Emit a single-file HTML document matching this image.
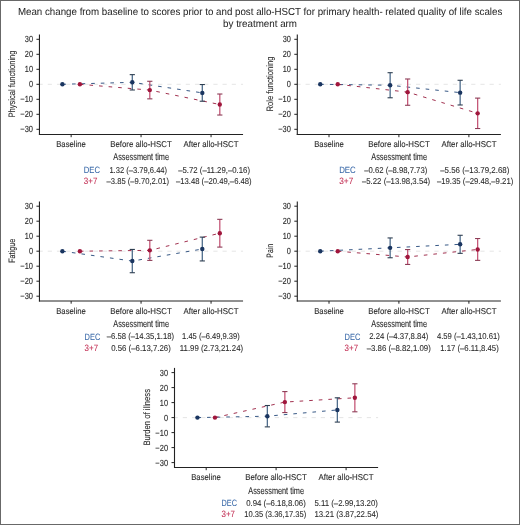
<!DOCTYPE html>
<html><head><meta charset="utf-8"><style>
html,body{margin:0;padding:0;background:#fff;}
body{width:520px;height:525px;overflow:hidden;}
.fr{position:absolute;left:0;top:0;width:518px;height:523px;border:1px solid #686868;}
svg{position:absolute;left:0;top:0;will-change:transform;font-family:"Liberation Sans", sans-serif;text-rendering:geometricPrecision;}
</style></head><body>
<div class="fr"></div>
<svg width="520" height="525" viewBox="0 0 520 525">
<line x1="38.55" y1="84.30" x2="243.05" y2="84.30" stroke="#e2e2e2" stroke-width="0.9" stroke-dasharray="4.2 5"/>
<path d="M62.40,84.30 L132.30,82.32 L202.30,92.88" fill="none" stroke="#2c4f7e" stroke-width="0.95" stroke-dasharray="3.6 6"/>
<path d="M79.90,84.30 L149.80,90.08 L219.80,104.52" fill="none" stroke="#9c2646" stroke-width="0.95" stroke-dasharray="3.6 6"/>
<line x1="132.30" y1="74.64" x2="132.30" y2="89.98" stroke="#4f6d8c" stroke-width="1.3"/>
<line x1="129.70" y1="74.64" x2="134.90" y2="74.64" stroke="#2e3e50" stroke-width="1.1"/>
<line x1="129.70" y1="89.98" x2="134.90" y2="89.98" stroke="#2e3e50" stroke-width="1.1"/>
<line x1="202.30" y1="84.54" x2="202.30" y2="101.23" stroke="#4f6d8c" stroke-width="1.3"/>
<line x1="199.70" y1="84.54" x2="204.90" y2="84.54" stroke="#2e3e50" stroke-width="1.1"/>
<line x1="199.70" y1="101.23" x2="204.90" y2="101.23" stroke="#2e3e50" stroke-width="1.1"/>
<line x1="149.80" y1="81.28" x2="149.80" y2="98.85" stroke="#c55878" stroke-width="1.3"/>
<line x1="147.20" y1="81.28" x2="152.40" y2="81.28" stroke="#8c3c56" stroke-width="1.1"/>
<line x1="147.20" y1="98.85" x2="152.40" y2="98.85" stroke="#8c3c56" stroke-width="1.1"/>
<line x1="219.80" y1="94.02" x2="219.80" y2="115.03" stroke="#c55878" stroke-width="1.3"/>
<line x1="217.20" y1="94.02" x2="222.40" y2="94.02" stroke="#8c3c56" stroke-width="1.1"/>
<line x1="217.20" y1="115.03" x2="222.40" y2="115.03" stroke="#8c3c56" stroke-width="1.1"/>
<circle cx="62.40" cy="84.30" r="2.2" fill="#1a3560"/>
<circle cx="132.30" cy="82.32" r="2.2" fill="#1a3560"/>
<circle cx="202.30" cy="92.88" r="2.2" fill="#1a3560"/>
<circle cx="79.90" cy="84.30" r="2.2" fill="#a0163c"/>
<circle cx="149.80" cy="90.08" r="2.2" fill="#a0163c"/>
<circle cx="219.80" cy="104.52" r="2.2" fill="#a0163c"/>
<line x1="39.45" y1="34.60" x2="39.45" y2="135.00" stroke="#222" stroke-width="1.1"/>
<line x1="38.95" y1="134.50" x2="243.05" y2="134.50" stroke="#222" stroke-width="1.0"/>
<line x1="36.45" y1="129.30" x2="39.45" y2="129.30" stroke="#222" stroke-width="1"/>
<text x="20.30" y="132.40" font-size="8.9" fill="#2a2a2a" stroke="#2a2a2a" stroke-width="0.11" textLength="12.70" lengthAdjust="spacingAndGlyphs">−30</text>
<line x1="36.45" y1="114.30" x2="39.45" y2="114.30" stroke="#222" stroke-width="1"/>
<text x="20.30" y="117.40" font-size="8.9" fill="#2a2a2a" stroke="#2a2a2a" stroke-width="0.11" textLength="12.70" lengthAdjust="spacingAndGlyphs">−20</text>
<line x1="36.45" y1="99.30" x2="39.45" y2="99.30" stroke="#222" stroke-width="1"/>
<text x="20.30" y="102.40" font-size="8.9" fill="#2a2a2a" stroke="#2a2a2a" stroke-width="0.11" textLength="12.70" lengthAdjust="spacingAndGlyphs">−10</text>
<line x1="36.45" y1="84.30" x2="39.45" y2="84.30" stroke="#222" stroke-width="1"/>
<text x="28.90" y="87.40" font-size="8.9" fill="#2a2a2a" stroke="#2a2a2a" stroke-width="0.11" textLength="4.10" lengthAdjust="spacingAndGlyphs">0</text>
<line x1="36.45" y1="69.30" x2="39.45" y2="69.30" stroke="#222" stroke-width="1"/>
<text x="24.80" y="72.40" font-size="8.9" fill="#2a2a2a" stroke="#2a2a2a" stroke-width="0.11" textLength="8.20" lengthAdjust="spacingAndGlyphs">10</text>
<line x1="36.45" y1="54.30" x2="39.45" y2="54.30" stroke="#222" stroke-width="1"/>
<text x="24.80" y="57.40" font-size="8.9" fill="#2a2a2a" stroke="#2a2a2a" stroke-width="0.11" textLength="8.20" lengthAdjust="spacingAndGlyphs">20</text>
<line x1="36.45" y1="39.30" x2="39.45" y2="39.30" stroke="#222" stroke-width="1"/>
<text x="24.80" y="42.40" font-size="8.9" fill="#2a2a2a" stroke="#2a2a2a" stroke-width="0.11" textLength="8.20" lengthAdjust="spacingAndGlyphs">30</text>
<line x1="71.15" y1="134.50" x2="71.15" y2="137.20" stroke="#222" stroke-width="1"/>
<line x1="141.05" y1="134.50" x2="141.05" y2="137.20" stroke="#222" stroke-width="1"/>
<line x1="211.05" y1="134.50" x2="211.05" y2="137.20" stroke="#222" stroke-width="1"/>
<text x="56.20" y="146.80" font-size="8.5" fill="#2a2a2a" stroke="#2a2a2a" stroke-width="0.11" textLength="29.60" lengthAdjust="spacingAndGlyphs">Baseline</text>
<text x="110.20" y="146.80" font-size="8.5" fill="#2a2a2a" stroke="#2a2a2a" stroke-width="0.11" textLength="61.50" lengthAdjust="spacingAndGlyphs">Before allo-HSCT</text>
<text x="183.50" y="146.80" font-size="8.5" fill="#2a2a2a" stroke="#2a2a2a" stroke-width="0.11" textLength="55.00" lengthAdjust="spacingAndGlyphs">After allo-HSCT</text>
<text x="113.30" y="160.20" font-size="9.8" fill="#2a2a2a" stroke="#2a2a2a" stroke-width="0.11" textLength="55.70" lengthAdjust="spacingAndGlyphs">Assessment time</text>
<text transform="translate(14.90,117.55) rotate(-90)" x="0" y="0" font-size="9.3" fill="#2a2a2a" stroke="#2a2a2a" stroke-width="0.11" textLength="67.10" lengthAdjust="spacingAndGlyphs">Physical functioning</text>
<text x="83.80" y="172.70" font-size="9.2" fill="#3465a6" stroke="#3465a6" stroke-width="0.05" textLength="16.20" lengthAdjust="spacingAndGlyphs">DEC</text>
<text x="83.80" y="183.90" font-size="9.2" fill="#c02a50" stroke="#c02a50" stroke-width="0.05" textLength="13.60" lengthAdjust="spacingAndGlyphs">3+7</text>
<text x="109.40" y="172.60" font-size="8.5" fill="#2a2a2a" stroke="#2a2a2a" stroke-width="0.08" textLength="57.70" lengthAdjust="spacingAndGlyphs">1.32 (–3.79,6.44)</text>
<text x="106.50" y="183.80" font-size="8.5" fill="#2a2a2a" stroke="#2a2a2a" stroke-width="0.08" textLength="62.50" lengthAdjust="spacingAndGlyphs">–3.85 (–9.70,2.01)</text>
<text x="178.20" y="172.60" font-size="8.5" fill="#2a2a2a" stroke="#2a2a2a" stroke-width="0.08" textLength="71.80" lengthAdjust="spacingAndGlyphs">–5.72 (–11.29,–0.16)</text>
<text x="175.90" y="183.80" font-size="8.5" fill="#2a2a2a" stroke="#2a2a2a" stroke-width="0.08" textLength="75.80" lengthAdjust="spacingAndGlyphs">–13.48 (–20.49,–6.48)</text>
<line x1="296.40" y1="84.30" x2="500.90" y2="84.30" stroke="#e2e2e2" stroke-width="0.9" stroke-dasharray="4.2 5"/>
<path d="M320.25,84.30 L390.15,85.23 L460.15,92.64" fill="none" stroke="#2c4f7e" stroke-width="0.95" stroke-dasharray="3.6 6"/>
<path d="M337.75,84.30 L407.65,92.13 L477.65,113.33" fill="none" stroke="#9c2646" stroke-width="0.95" stroke-dasharray="3.6 6"/>
<line x1="390.15" y1="72.70" x2="390.15" y2="97.77" stroke="#4f6d8c" stroke-width="1.3"/>
<line x1="387.55" y1="72.70" x2="392.75" y2="72.70" stroke="#2e3e50" stroke-width="1.1"/>
<line x1="387.55" y1="97.77" x2="392.75" y2="97.77" stroke="#2e3e50" stroke-width="1.1"/>
<line x1="460.15" y1="80.28" x2="460.15" y2="104.98" stroke="#4f6d8c" stroke-width="1.3"/>
<line x1="457.55" y1="80.28" x2="462.75" y2="80.28" stroke="#2e3e50" stroke-width="1.1"/>
<line x1="457.55" y1="104.98" x2="462.75" y2="104.98" stroke="#2e3e50" stroke-width="1.1"/>
<line x1="407.65" y1="78.99" x2="407.65" y2="105.27" stroke="#c55878" stroke-width="1.3"/>
<line x1="405.05" y1="78.99" x2="410.25" y2="78.99" stroke="#8c3c56" stroke-width="1.1"/>
<line x1="405.05" y1="105.27" x2="410.25" y2="105.27" stroke="#8c3c56" stroke-width="1.1"/>
<line x1="477.65" y1="98.11" x2="477.65" y2="128.52" stroke="#c55878" stroke-width="1.3"/>
<line x1="475.05" y1="98.11" x2="480.25" y2="98.11" stroke="#8c3c56" stroke-width="1.1"/>
<line x1="475.05" y1="128.52" x2="480.25" y2="128.52" stroke="#8c3c56" stroke-width="1.1"/>
<circle cx="320.25" cy="84.30" r="2.2" fill="#1a3560"/>
<circle cx="390.15" cy="85.23" r="2.2" fill="#1a3560"/>
<circle cx="460.15" cy="92.64" r="2.2" fill="#1a3560"/>
<circle cx="337.75" cy="84.30" r="2.2" fill="#a0163c"/>
<circle cx="407.65" cy="92.13" r="2.2" fill="#a0163c"/>
<circle cx="477.65" cy="113.33" r="2.2" fill="#a0163c"/>
<line x1="297.30" y1="34.60" x2="297.30" y2="135.00" stroke="#222" stroke-width="1.1"/>
<line x1="296.80" y1="134.50" x2="500.90" y2="134.50" stroke="#222" stroke-width="1.0"/>
<line x1="294.30" y1="129.30" x2="297.30" y2="129.30" stroke="#222" stroke-width="1"/>
<text x="278.15" y="132.40" font-size="8.9" fill="#2a2a2a" stroke="#2a2a2a" stroke-width="0.11" textLength="12.70" lengthAdjust="spacingAndGlyphs">−30</text>
<line x1="294.30" y1="114.30" x2="297.30" y2="114.30" stroke="#222" stroke-width="1"/>
<text x="278.15" y="117.40" font-size="8.9" fill="#2a2a2a" stroke="#2a2a2a" stroke-width="0.11" textLength="12.70" lengthAdjust="spacingAndGlyphs">−20</text>
<line x1="294.30" y1="99.30" x2="297.30" y2="99.30" stroke="#222" stroke-width="1"/>
<text x="278.15" y="102.40" font-size="8.9" fill="#2a2a2a" stroke="#2a2a2a" stroke-width="0.11" textLength="12.70" lengthAdjust="spacingAndGlyphs">−10</text>
<line x1="294.30" y1="84.30" x2="297.30" y2="84.30" stroke="#222" stroke-width="1"/>
<text x="286.75" y="87.40" font-size="8.9" fill="#2a2a2a" stroke="#2a2a2a" stroke-width="0.11" textLength="4.10" lengthAdjust="spacingAndGlyphs">0</text>
<line x1="294.30" y1="69.30" x2="297.30" y2="69.30" stroke="#222" stroke-width="1"/>
<text x="282.65" y="72.40" font-size="8.9" fill="#2a2a2a" stroke="#2a2a2a" stroke-width="0.11" textLength="8.20" lengthAdjust="spacingAndGlyphs">10</text>
<line x1="294.30" y1="54.30" x2="297.30" y2="54.30" stroke="#222" stroke-width="1"/>
<text x="282.65" y="57.40" font-size="8.9" fill="#2a2a2a" stroke="#2a2a2a" stroke-width="0.11" textLength="8.20" lengthAdjust="spacingAndGlyphs">20</text>
<line x1="294.30" y1="39.30" x2="297.30" y2="39.30" stroke="#222" stroke-width="1"/>
<text x="282.65" y="42.40" font-size="8.9" fill="#2a2a2a" stroke="#2a2a2a" stroke-width="0.11" textLength="8.20" lengthAdjust="spacingAndGlyphs">30</text>
<line x1="329.00" y1="134.50" x2="329.00" y2="137.20" stroke="#222" stroke-width="1"/>
<line x1="398.90" y1="134.50" x2="398.90" y2="137.20" stroke="#222" stroke-width="1"/>
<line x1="468.90" y1="134.50" x2="468.90" y2="137.20" stroke="#222" stroke-width="1"/>
<text x="314.20" y="146.80" font-size="8.5" fill="#2a2a2a" stroke="#2a2a2a" stroke-width="0.11" textLength="29.60" lengthAdjust="spacingAndGlyphs">Baseline</text>
<text x="368.20" y="146.80" font-size="8.5" fill="#2a2a2a" stroke="#2a2a2a" stroke-width="0.11" textLength="61.50" lengthAdjust="spacingAndGlyphs">Before allo-HSCT</text>
<text x="441.50" y="146.80" font-size="8.5" fill="#2a2a2a" stroke="#2a2a2a" stroke-width="0.11" textLength="55.00" lengthAdjust="spacingAndGlyphs">After allo-HSCT</text>
<text x="371.30" y="160.20" font-size="9.8" fill="#2a2a2a" stroke="#2a2a2a" stroke-width="0.11" textLength="55.70" lengthAdjust="spacingAndGlyphs">Assessment time</text>
<text transform="translate(272.90,111.60) rotate(-90)" x="0" y="0" font-size="9.3" fill="#2a2a2a" stroke="#2a2a2a" stroke-width="0.11" textLength="55.20" lengthAdjust="spacingAndGlyphs">Role functioning</text>
<text x="339.20" y="172.70" font-size="9.2" fill="#3465a6" stroke="#3465a6" stroke-width="0.05" textLength="16.60" lengthAdjust="spacingAndGlyphs">DEC</text>
<text x="339.20" y="183.90" font-size="9.2" fill="#c02a50" stroke="#c02a50" stroke-width="0.05" textLength="14.10" lengthAdjust="spacingAndGlyphs">3+7</text>
<text x="364.20" y="172.60" font-size="8.5" fill="#2a2a2a" stroke="#2a2a2a" stroke-width="0.08" textLength="63.10" lengthAdjust="spacingAndGlyphs">–0.62 (–8.98,7.73)</text>
<text x="361.90" y="183.80" font-size="8.5" fill="#2a2a2a" stroke="#2a2a2a" stroke-width="0.08" textLength="68.30" lengthAdjust="spacingAndGlyphs">–5.22 (–13.98,3.54)</text>
<text x="440.20" y="172.60" font-size="8.5" fill="#2a2a2a" stroke="#2a2a2a" stroke-width="0.08" textLength="69.20" lengthAdjust="spacingAndGlyphs">–5.56 (–13.79,2.68)</text>
<text x="436.90" y="183.80" font-size="8.5" fill="#2a2a2a" stroke="#2a2a2a" stroke-width="0.08" textLength="76.40" lengthAdjust="spacingAndGlyphs">–19.35 (–29.48,–9.21)</text>
<line x1="38.55" y1="251.20" x2="243.05" y2="251.20" stroke="#e2e2e2" stroke-width="0.9" stroke-dasharray="4.2 5"/>
<path d="M62.40,251.20 L132.30,261.07 L202.30,249.02" fill="none" stroke="#2c4f7e" stroke-width="0.95" stroke-dasharray="3.6 6"/>
<path d="M79.90,251.20 L149.80,250.36 L219.80,233.21" fill="none" stroke="#9c2646" stroke-width="0.95" stroke-dasharray="3.6 6"/>
<line x1="132.30" y1="249.43" x2="132.30" y2="272.72" stroke="#4f6d8c" stroke-width="1.3"/>
<line x1="129.70" y1="249.43" x2="134.90" y2="249.43" stroke="#2e3e50" stroke-width="1.1"/>
<line x1="129.70" y1="272.72" x2="134.90" y2="272.72" stroke="#2e3e50" stroke-width="1.1"/>
<line x1="202.30" y1="237.11" x2="202.30" y2="260.94" stroke="#4f6d8c" stroke-width="1.3"/>
<line x1="199.70" y1="237.11" x2="204.90" y2="237.11" stroke="#2e3e50" stroke-width="1.1"/>
<line x1="199.70" y1="260.94" x2="204.90" y2="260.94" stroke="#2e3e50" stroke-width="1.1"/>
<line x1="149.80" y1="240.31" x2="149.80" y2="260.39" stroke="#c55878" stroke-width="1.3"/>
<line x1="147.20" y1="240.31" x2="152.40" y2="240.31" stroke="#8c3c56" stroke-width="1.1"/>
<line x1="147.20" y1="260.39" x2="152.40" y2="260.39" stroke="#8c3c56" stroke-width="1.1"/>
<line x1="219.80" y1="219.34" x2="219.80" y2="247.10" stroke="#c55878" stroke-width="1.3"/>
<line x1="217.20" y1="219.34" x2="222.40" y2="219.34" stroke="#8c3c56" stroke-width="1.1"/>
<line x1="217.20" y1="247.10" x2="222.40" y2="247.10" stroke="#8c3c56" stroke-width="1.1"/>
<circle cx="62.40" cy="251.20" r="2.2" fill="#1a3560"/>
<circle cx="132.30" cy="261.07" r="2.2" fill="#1a3560"/>
<circle cx="202.30" cy="249.02" r="2.2" fill="#1a3560"/>
<circle cx="79.90" cy="251.20" r="2.2" fill="#a0163c"/>
<circle cx="149.80" cy="250.36" r="2.2" fill="#a0163c"/>
<circle cx="219.80" cy="233.21" r="2.2" fill="#a0163c"/>
<line x1="39.45" y1="201.50" x2="39.45" y2="301.50" stroke="#222" stroke-width="1.1"/>
<line x1="38.95" y1="301.00" x2="243.05" y2="301.00" stroke="#222" stroke-width="1.0"/>
<line x1="36.45" y1="296.20" x2="39.45" y2="296.20" stroke="#222" stroke-width="1"/>
<text x="20.30" y="299.30" font-size="8.9" fill="#2a2a2a" stroke="#2a2a2a" stroke-width="0.11" textLength="12.70" lengthAdjust="spacingAndGlyphs">−30</text>
<line x1="36.45" y1="281.20" x2="39.45" y2="281.20" stroke="#222" stroke-width="1"/>
<text x="20.30" y="284.30" font-size="8.9" fill="#2a2a2a" stroke="#2a2a2a" stroke-width="0.11" textLength="12.70" lengthAdjust="spacingAndGlyphs">−20</text>
<line x1="36.45" y1="266.20" x2="39.45" y2="266.20" stroke="#222" stroke-width="1"/>
<text x="20.30" y="269.30" font-size="8.9" fill="#2a2a2a" stroke="#2a2a2a" stroke-width="0.11" textLength="12.70" lengthAdjust="spacingAndGlyphs">−10</text>
<line x1="36.45" y1="251.20" x2="39.45" y2="251.20" stroke="#222" stroke-width="1"/>
<text x="28.90" y="254.30" font-size="8.9" fill="#2a2a2a" stroke="#2a2a2a" stroke-width="0.11" textLength="4.10" lengthAdjust="spacingAndGlyphs">0</text>
<line x1="36.45" y1="236.20" x2="39.45" y2="236.20" stroke="#222" stroke-width="1"/>
<text x="24.80" y="239.30" font-size="8.9" fill="#2a2a2a" stroke="#2a2a2a" stroke-width="0.11" textLength="8.20" lengthAdjust="spacingAndGlyphs">10</text>
<line x1="36.45" y1="221.20" x2="39.45" y2="221.20" stroke="#222" stroke-width="1"/>
<text x="24.80" y="224.30" font-size="8.9" fill="#2a2a2a" stroke="#2a2a2a" stroke-width="0.11" textLength="8.20" lengthAdjust="spacingAndGlyphs">20</text>
<line x1="36.45" y1="206.20" x2="39.45" y2="206.20" stroke="#222" stroke-width="1"/>
<text x="24.80" y="209.30" font-size="8.9" fill="#2a2a2a" stroke="#2a2a2a" stroke-width="0.11" textLength="8.20" lengthAdjust="spacingAndGlyphs">30</text>
<line x1="71.15" y1="301.00" x2="71.15" y2="303.70" stroke="#222" stroke-width="1"/>
<line x1="141.05" y1="301.00" x2="141.05" y2="303.70" stroke="#222" stroke-width="1"/>
<line x1="211.05" y1="301.00" x2="211.05" y2="303.70" stroke="#222" stroke-width="1"/>
<text x="56.20" y="313.60" font-size="8.5" fill="#2a2a2a" stroke="#2a2a2a" stroke-width="0.11" textLength="29.60" lengthAdjust="spacingAndGlyphs">Baseline</text>
<text x="110.20" y="313.60" font-size="8.5" fill="#2a2a2a" stroke="#2a2a2a" stroke-width="0.11" textLength="61.50" lengthAdjust="spacingAndGlyphs">Before allo-HSCT</text>
<text x="183.50" y="313.60" font-size="8.5" fill="#2a2a2a" stroke="#2a2a2a" stroke-width="0.11" textLength="55.00" lengthAdjust="spacingAndGlyphs">After allo-HSCT</text>
<text x="113.30" y="327.00" font-size="9.8" fill="#2a2a2a" stroke="#2a2a2a" stroke-width="0.11" textLength="55.70" lengthAdjust="spacingAndGlyphs">Assessment time</text>
<text transform="translate(14.90,262.85) rotate(-90)" x="0" y="0" font-size="9.3" fill="#2a2a2a" stroke="#2a2a2a" stroke-width="0.11" textLength="24.10" lengthAdjust="spacingAndGlyphs">Fatigue</text>
<text x="84.60" y="339.50" font-size="9.2" fill="#3465a6" stroke="#3465a6" stroke-width="0.05" textLength="15.70" lengthAdjust="spacingAndGlyphs">DEC</text>
<text x="84.60" y="350.70" font-size="9.2" fill="#c02a50" stroke="#c02a50" stroke-width="0.05" textLength="13.50" lengthAdjust="spacingAndGlyphs">3+7</text>
<text x="106.70" y="339.40" font-size="8.5" fill="#2a2a2a" stroke="#2a2a2a" stroke-width="0.08" textLength="67.50" lengthAdjust="spacingAndGlyphs">–6.58 (–14.35,1.18)</text>
<text x="111.20" y="350.60" font-size="8.5" fill="#2a2a2a" stroke="#2a2a2a" stroke-width="0.08" textLength="59.60" lengthAdjust="spacingAndGlyphs">0.56 (–6.13,7.26)</text>
<text x="182.10" y="339.40" font-size="8.5" fill="#2a2a2a" stroke="#2a2a2a" stroke-width="0.08" textLength="57.70" lengthAdjust="spacingAndGlyphs">1.45 (–6.49,9.39)</text>
<text x="179.80" y="350.60" font-size="8.5" fill="#2a2a2a" stroke="#2a2a2a" stroke-width="0.08" textLength="63.30" lengthAdjust="spacingAndGlyphs">11.99 (2.73,21.24)</text>
<line x1="296.40" y1="251.20" x2="500.90" y2="251.20" stroke="#e2e2e2" stroke-width="0.9" stroke-dasharray="4.2 5"/>
<path d="M320.25,251.20 L390.15,247.84 L460.15,244.31" fill="none" stroke="#2c4f7e" stroke-width="0.95" stroke-dasharray="3.6 6"/>
<path d="M337.75,251.20 L407.65,256.99 L477.65,249.44" fill="none" stroke="#9c2646" stroke-width="0.95" stroke-dasharray="3.6 6"/>
<line x1="390.15" y1="237.94" x2="390.15" y2="257.75" stroke="#4f6d8c" stroke-width="1.3"/>
<line x1="387.55" y1="237.94" x2="392.75" y2="237.94" stroke="#2e3e50" stroke-width="1.1"/>
<line x1="387.55" y1="257.75" x2="392.75" y2="257.75" stroke="#2e3e50" stroke-width="1.1"/>
<line x1="460.15" y1="235.28" x2="460.15" y2="253.34" stroke="#4f6d8c" stroke-width="1.3"/>
<line x1="457.55" y1="235.28" x2="462.75" y2="235.28" stroke="#2e3e50" stroke-width="1.1"/>
<line x1="457.55" y1="253.34" x2="462.75" y2="253.34" stroke="#2e3e50" stroke-width="1.1"/>
<line x1="407.65" y1="249.56" x2="407.65" y2="264.43" stroke="#c55878" stroke-width="1.3"/>
<line x1="405.05" y1="249.56" x2="410.25" y2="249.56" stroke="#8c3c56" stroke-width="1.1"/>
<line x1="405.05" y1="264.43" x2="410.25" y2="264.43" stroke="#8c3c56" stroke-width="1.1"/>
<line x1="477.65" y1="238.52" x2="477.65" y2="260.37" stroke="#c55878" stroke-width="1.3"/>
<line x1="475.05" y1="238.52" x2="480.25" y2="238.52" stroke="#8c3c56" stroke-width="1.1"/>
<line x1="475.05" y1="260.37" x2="480.25" y2="260.37" stroke="#8c3c56" stroke-width="1.1"/>
<circle cx="320.25" cy="251.20" r="2.2" fill="#1a3560"/>
<circle cx="390.15" cy="247.84" r="2.2" fill="#1a3560"/>
<circle cx="460.15" cy="244.31" r="2.2" fill="#1a3560"/>
<circle cx="337.75" cy="251.20" r="2.2" fill="#a0163c"/>
<circle cx="407.65" cy="256.99" r="2.2" fill="#a0163c"/>
<circle cx="477.65" cy="249.44" r="2.2" fill="#a0163c"/>
<line x1="297.30" y1="201.50" x2="297.30" y2="301.50" stroke="#222" stroke-width="1.1"/>
<line x1="296.80" y1="301.00" x2="500.90" y2="301.00" stroke="#222" stroke-width="1.0"/>
<line x1="294.30" y1="296.20" x2="297.30" y2="296.20" stroke="#222" stroke-width="1"/>
<text x="278.15" y="299.30" font-size="8.9" fill="#2a2a2a" stroke="#2a2a2a" stroke-width="0.11" textLength="12.70" lengthAdjust="spacingAndGlyphs">−30</text>
<line x1="294.30" y1="281.20" x2="297.30" y2="281.20" stroke="#222" stroke-width="1"/>
<text x="278.15" y="284.30" font-size="8.9" fill="#2a2a2a" stroke="#2a2a2a" stroke-width="0.11" textLength="12.70" lengthAdjust="spacingAndGlyphs">−20</text>
<line x1="294.30" y1="266.20" x2="297.30" y2="266.20" stroke="#222" stroke-width="1"/>
<text x="278.15" y="269.30" font-size="8.9" fill="#2a2a2a" stroke="#2a2a2a" stroke-width="0.11" textLength="12.70" lengthAdjust="spacingAndGlyphs">−10</text>
<line x1="294.30" y1="251.20" x2="297.30" y2="251.20" stroke="#222" stroke-width="1"/>
<text x="286.75" y="254.30" font-size="8.9" fill="#2a2a2a" stroke="#2a2a2a" stroke-width="0.11" textLength="4.10" lengthAdjust="spacingAndGlyphs">0</text>
<line x1="294.30" y1="236.20" x2="297.30" y2="236.20" stroke="#222" stroke-width="1"/>
<text x="282.65" y="239.30" font-size="8.9" fill="#2a2a2a" stroke="#2a2a2a" stroke-width="0.11" textLength="8.20" lengthAdjust="spacingAndGlyphs">10</text>
<line x1="294.30" y1="221.20" x2="297.30" y2="221.20" stroke="#222" stroke-width="1"/>
<text x="282.65" y="224.30" font-size="8.9" fill="#2a2a2a" stroke="#2a2a2a" stroke-width="0.11" textLength="8.20" lengthAdjust="spacingAndGlyphs">20</text>
<line x1="294.30" y1="206.20" x2="297.30" y2="206.20" stroke="#222" stroke-width="1"/>
<text x="282.65" y="209.30" font-size="8.9" fill="#2a2a2a" stroke="#2a2a2a" stroke-width="0.11" textLength="8.20" lengthAdjust="spacingAndGlyphs">30</text>
<line x1="329.00" y1="301.00" x2="329.00" y2="303.70" stroke="#222" stroke-width="1"/>
<line x1="398.90" y1="301.00" x2="398.90" y2="303.70" stroke="#222" stroke-width="1"/>
<line x1="468.90" y1="301.00" x2="468.90" y2="303.70" stroke="#222" stroke-width="1"/>
<text x="314.20" y="313.60" font-size="8.5" fill="#2a2a2a" stroke="#2a2a2a" stroke-width="0.11" textLength="29.60" lengthAdjust="spacingAndGlyphs">Baseline</text>
<text x="368.20" y="313.60" font-size="8.5" fill="#2a2a2a" stroke="#2a2a2a" stroke-width="0.11" textLength="61.50" lengthAdjust="spacingAndGlyphs">Before allo-HSCT</text>
<text x="441.50" y="313.60" font-size="8.5" fill="#2a2a2a" stroke="#2a2a2a" stroke-width="0.11" textLength="55.00" lengthAdjust="spacingAndGlyphs">After allo-HSCT</text>
<text x="371.30" y="327.00" font-size="9.8" fill="#2a2a2a" stroke="#2a2a2a" stroke-width="0.11" textLength="55.70" lengthAdjust="spacingAndGlyphs">Assessment time</text>
<text transform="translate(272.90,257.70) rotate(-90)" x="0" y="0" font-size="9.3" fill="#2a2a2a" stroke="#2a2a2a" stroke-width="0.11" textLength="13.80" lengthAdjust="spacingAndGlyphs">Pain</text>
<text x="344.60" y="339.50" font-size="9.2" fill="#3465a6" stroke="#3465a6" stroke-width="0.05" textLength="15.80" lengthAdjust="spacingAndGlyphs">DEC</text>
<text x="344.60" y="350.70" font-size="9.2" fill="#c02a50" stroke="#c02a50" stroke-width="0.05" textLength="13.50" lengthAdjust="spacingAndGlyphs">3+7</text>
<text x="369.20" y="339.40" font-size="8.5" fill="#2a2a2a" stroke="#2a2a2a" stroke-width="0.08" textLength="59.10" lengthAdjust="spacingAndGlyphs">2.24 (–4.37,8.84)</text>
<text x="366.70" y="350.60" font-size="8.5" fill="#2a2a2a" stroke="#2a2a2a" stroke-width="0.08" textLength="64.10" lengthAdjust="spacingAndGlyphs">–3.86 (–8.82,1.09)</text>
<text x="436.90" y="339.40" font-size="8.5" fill="#2a2a2a" stroke="#2a2a2a" stroke-width="0.08" textLength="62.90" lengthAdjust="spacingAndGlyphs">4.59 (–1.43,10.61)</text>
<text x="440.20" y="350.60" font-size="8.5" fill="#2a2a2a" stroke="#2a2a2a" stroke-width="0.08" textLength="58.60" lengthAdjust="spacingAndGlyphs">1.17 (–6.11,8.45)</text>
<line x1="173.60" y1="417.60" x2="378.10" y2="417.60" stroke="#e2e2e2" stroke-width="0.9" stroke-dasharray="4.2 5"/>
<path d="M197.45,417.60 L267.35,416.19 L337.35,409.94" fill="none" stroke="#2c4f7e" stroke-width="0.95" stroke-dasharray="3.6 6"/>
<path d="M214.95,417.60 L284.85,402.08 L354.85,397.79" fill="none" stroke="#9c2646" stroke-width="0.95" stroke-dasharray="3.6 6"/>
<line x1="267.35" y1="405.51" x2="267.35" y2="426.87" stroke="#4f6d8c" stroke-width="1.3"/>
<line x1="264.75" y1="405.51" x2="269.95" y2="405.51" stroke="#2e3e50" stroke-width="1.1"/>
<line x1="264.75" y1="426.87" x2="269.95" y2="426.87" stroke="#2e3e50" stroke-width="1.1"/>
<line x1="337.35" y1="397.80" x2="337.35" y2="422.09" stroke="#4f6d8c" stroke-width="1.3"/>
<line x1="334.75" y1="397.80" x2="339.95" y2="397.80" stroke="#2e3e50" stroke-width="1.1"/>
<line x1="334.75" y1="422.09" x2="339.95" y2="422.09" stroke="#2e3e50" stroke-width="1.1"/>
<line x1="284.85" y1="391.58" x2="284.85" y2="412.56" stroke="#c55878" stroke-width="1.3"/>
<line x1="282.25" y1="391.58" x2="287.45" y2="391.58" stroke="#8c3c56" stroke-width="1.1"/>
<line x1="282.25" y1="412.56" x2="287.45" y2="412.56" stroke="#8c3c56" stroke-width="1.1"/>
<line x1="354.85" y1="383.79" x2="354.85" y2="411.80" stroke="#c55878" stroke-width="1.3"/>
<line x1="352.25" y1="383.79" x2="357.45" y2="383.79" stroke="#8c3c56" stroke-width="1.1"/>
<line x1="352.25" y1="411.80" x2="357.45" y2="411.80" stroke="#8c3c56" stroke-width="1.1"/>
<circle cx="197.45" cy="417.60" r="2.2" fill="#1a3560"/>
<circle cx="267.35" cy="416.19" r="2.2" fill="#1a3560"/>
<circle cx="337.35" cy="409.94" r="2.2" fill="#1a3560"/>
<circle cx="214.95" cy="417.60" r="2.2" fill="#a0163c"/>
<circle cx="284.85" cy="402.08" r="2.2" fill="#a0163c"/>
<circle cx="354.85" cy="397.79" r="2.2" fill="#a0163c"/>
<line x1="174.50" y1="367.90" x2="174.50" y2="468.00" stroke="#222" stroke-width="1.1"/>
<line x1="174.00" y1="467.50" x2="378.10" y2="467.50" stroke="#222" stroke-width="1.0"/>
<line x1="171.50" y1="462.60" x2="174.50" y2="462.60" stroke="#222" stroke-width="1"/>
<text x="155.35" y="465.70" font-size="8.9" fill="#2a2a2a" stroke="#2a2a2a" stroke-width="0.11" textLength="12.70" lengthAdjust="spacingAndGlyphs">−30</text>
<line x1="171.50" y1="447.60" x2="174.50" y2="447.60" stroke="#222" stroke-width="1"/>
<text x="155.35" y="450.70" font-size="8.9" fill="#2a2a2a" stroke="#2a2a2a" stroke-width="0.11" textLength="12.70" lengthAdjust="spacingAndGlyphs">−20</text>
<line x1="171.50" y1="432.60" x2="174.50" y2="432.60" stroke="#222" stroke-width="1"/>
<text x="155.35" y="435.70" font-size="8.9" fill="#2a2a2a" stroke="#2a2a2a" stroke-width="0.11" textLength="12.70" lengthAdjust="spacingAndGlyphs">−10</text>
<line x1="171.50" y1="417.60" x2="174.50" y2="417.60" stroke="#222" stroke-width="1"/>
<text x="163.95" y="420.70" font-size="8.9" fill="#2a2a2a" stroke="#2a2a2a" stroke-width="0.11" textLength="4.10" lengthAdjust="spacingAndGlyphs">0</text>
<line x1="171.50" y1="402.60" x2="174.50" y2="402.60" stroke="#222" stroke-width="1"/>
<text x="159.85" y="405.70" font-size="8.9" fill="#2a2a2a" stroke="#2a2a2a" stroke-width="0.11" textLength="8.20" lengthAdjust="spacingAndGlyphs">10</text>
<line x1="171.50" y1="387.60" x2="174.50" y2="387.60" stroke="#222" stroke-width="1"/>
<text x="159.85" y="390.70" font-size="8.9" fill="#2a2a2a" stroke="#2a2a2a" stroke-width="0.11" textLength="8.20" lengthAdjust="spacingAndGlyphs">20</text>
<line x1="171.50" y1="372.60" x2="174.50" y2="372.60" stroke="#222" stroke-width="1"/>
<text x="159.85" y="375.70" font-size="8.9" fill="#2a2a2a" stroke="#2a2a2a" stroke-width="0.11" textLength="8.20" lengthAdjust="spacingAndGlyphs">30</text>
<line x1="206.20" y1="467.50" x2="206.20" y2="470.20" stroke="#222" stroke-width="1"/>
<line x1="276.10" y1="467.50" x2="276.10" y2="470.20" stroke="#222" stroke-width="1"/>
<line x1="346.10" y1="467.50" x2="346.10" y2="470.20" stroke="#222" stroke-width="1"/>
<text x="191.20" y="480.10" font-size="8.5" fill="#2a2a2a" stroke="#2a2a2a" stroke-width="0.11" textLength="29.60" lengthAdjust="spacingAndGlyphs">Baseline</text>
<text x="245.20" y="480.10" font-size="8.5" fill="#2a2a2a" stroke="#2a2a2a" stroke-width="0.11" textLength="61.50" lengthAdjust="spacingAndGlyphs">Before allo-HSCT</text>
<text x="318.50" y="480.10" font-size="8.5" fill="#2a2a2a" stroke="#2a2a2a" stroke-width="0.11" textLength="55.00" lengthAdjust="spacingAndGlyphs">After allo-HSCT</text>
<text x="248.30" y="493.50" font-size="9.8" fill="#2a2a2a" stroke="#2a2a2a" stroke-width="0.11" textLength="55.70" lengthAdjust="spacingAndGlyphs">Assessment time</text>
<text transform="translate(149.90,445.60) rotate(-90)" x="0" y="0" font-size="9.3" fill="#2a2a2a" stroke="#2a2a2a" stroke-width="0.11" textLength="56.60" lengthAdjust="spacingAndGlyphs">Burden of illness</text>
<text x="221.50" y="506.00" font-size="9.2" fill="#3465a6" stroke="#3465a6" stroke-width="0.05" textLength="15.40" lengthAdjust="spacingAndGlyphs">DEC</text>
<text x="221.50" y="517.20" font-size="9.2" fill="#c02a50" stroke="#c02a50" stroke-width="0.05" textLength="13.50" lengthAdjust="spacingAndGlyphs">3+7</text>
<text x="246.20" y="505.90" font-size="8.5" fill="#2a2a2a" stroke="#2a2a2a" stroke-width="0.08" textLength="59.60" lengthAdjust="spacingAndGlyphs">0.94 (–6.18,8.06)</text>
<text x="244.20" y="517.10" font-size="8.5" fill="#2a2a2a" stroke="#2a2a2a" stroke-width="0.08" textLength="62.00" lengthAdjust="spacingAndGlyphs">10.35 (3.36,17.35)</text>
<text x="314.40" y="505.90" font-size="8.5" fill="#2a2a2a" stroke="#2a2a2a" stroke-width="0.08" textLength="63.50" lengthAdjust="spacingAndGlyphs">5.11 (–2.99,13.20)</text>
<text x="314.40" y="517.10" font-size="8.5" fill="#2a2a2a" stroke="#2a2a2a" stroke-width="0.08" textLength="64.10" lengthAdjust="spacingAndGlyphs">13.21 (3.87,22.54)</text>
<text x="17.90" y="14.80" font-size="10.2" fill="#262626" stroke="#262626" stroke-width="0.03" textLength="484.40" lengthAdjust="spacingAndGlyphs">Mean change from baseline to scores prior to and post allo-HSCT for primary health- related quality of life scales</text>
<text x="223.10" y="26.50" font-size="10.2" fill="#262626" stroke="#262626" stroke-width="0.03" textLength="73.90" lengthAdjust="spacingAndGlyphs">by treatment arm</text>
</svg>
</body></html>
